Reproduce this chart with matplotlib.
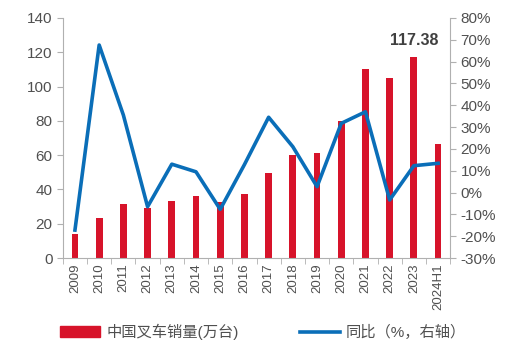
import matplotlib
matplotlib.use('Agg')
import matplotlib.pyplot as plt
from matplotlib.patches import Patch
from matplotlib.lines import Line2D
from matplotlib.ticker import FuncFormatter, FixedLocator
import numpy as np

plt.rcParams['font.family'] = ['Liberation Sans', 'Noto Sans CJK SC', 'DejaVu Sans']

years = ['2009', '2010', '2011', '2012', '2013', '2014', '2015', '2016',
         '2017', '2018', '2019', '2020', '2021', '2022', '2023', '2024H1']
sales = [14.0, 23.3, 31.5, 29.0, 33.0, 36.2, 32.9, 37.3,
         49.8, 59.9, 61.0, 80.0, 110.0, 105.0, 117.38, 66.3]
yoy = [-17.2, 67.6, 35.5, -6.5, 13.0, 9.5, -7.7, 12.8,
       34.5, 21.0, 2.7, 31.7, 37.0, -3.4, 12.3, 13.4]

red = '#D7132A'
blue = '#0A6EB8'
gray = '#B0B0B0'
txt = '#505050'

fig = plt.figure(figsize=(5.11, 3.52), dpi=100)
ax = fig.add_axes([0.123, 0.267, 0.758, 0.682])
ax2 = ax.twinx()

x = np.arange(len(years))
ax.bar(x, sales, width=0.28, color=red, zorder=2)
ax.set_xlim(-0.5, len(years) - 0.5)
ax.set_ylim(0, 140)
ax.set_yticks(range(0, 141, 20))

ax2.plot(x, yoy, color=blue, lw=2.6, zorder=3)
ax2.set_ylim(-30, 80)
ax2.set_yticks(range(-30, 81, 10))
ax2.yaxis.set_major_formatter(FuncFormatter(lambda v, p: f'{int(v)}%'))

ax.set_xticks(x)
ax.set_xticklabels(years, rotation=90, fontsize=9.5, color=txt)
ax.tick_params(axis='x', length=0, pad=4)
ax.xaxis.set_minor_locator(FixedLocator(np.arange(-0.5, len(years), 1)))
ax.tick_params(axis='x', which='minor', length=4, color=gray, direction='out')
ax.tick_params(axis='y', labelsize=11, labelcolor=txt, color=gray, length=4)
ax2.tick_params(axis='y', labelsize=11, labelcolor=txt, color=gray, length=4)

for a in (ax, ax2):
    a.spines['top'].set_visible(False)
    for s in ('left', 'right', 'bottom'):
        a.spines[s].set_color(gray)
ax.spines['right'].set_visible(False)
ax2.spines['left'].set_visible(False)
ax2.spines['bottom'].set_visible(False)

ax.text(x[14], sales[14] + 5, f'{sales[14]:.2f}', ha='center', va='bottom',
        fontsize=11.5, fontweight='bold', color='#404040')

handles = [Patch(color=red), Line2D([0], [0], color=blue, lw=2.6)]
labels = ['中国叉车销量(万台)', '同比（%，右轴）']
fig.legend(handles, labels, loc='lower center', bbox_to_anchor=(0.515, -0.005),
           ncol=2, frameon=False, fontsize=11, handlelength=2.6,
           columnspacing=4, handletextpad=0.4, labelcolor=txt)

fig.savefig('out.png', dpi=100)
